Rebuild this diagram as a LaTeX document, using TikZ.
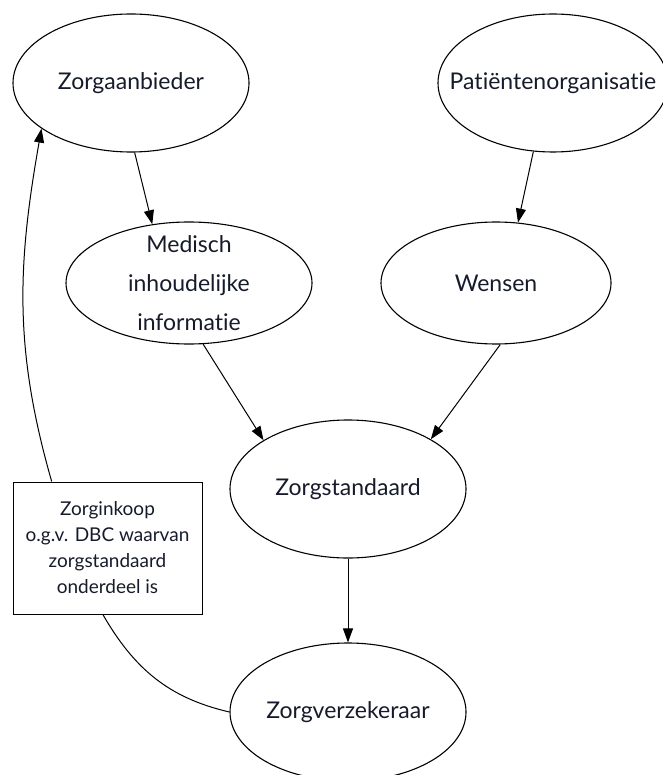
\documentclass[tikz,border=0pt]{standalone}
\usepackage{fontspec}
\setmainfont{Lato}[Ligatures={NoCommon,NoRare,NoDiscretionary}]
\usetikzlibrary{shapes.geometric,arrows.meta}
\definecolor{txt}{RGB}{22,27,43}
\begin{document}
\begin{tikzpicture}[x=1pt,y=1pt,
 ell/.style={ellipse,draw,line width=1.1pt,inner xsep=-60pt,inner ysep=-45pt,text=txt,font=\fontsize{23}{39}\selectfont,align=center},
 arr/.style={-{Triangle[length=14pt,width=10pt]},line width=1pt},
 plainline/.style={line width=1pt},
 boxn/.style={draw,line width=1pt,minimum width=189pt,minimum height=132pt,inner sep=0pt,text=txt,font=\fontsize{19}{26}\selectfont,align=center}]
\useasboundingbox (0,0) rectangle (662,-775);
\node[ell,minimum width=236pt,minimum height=138pt] (za) at (131,-83) {Zorgaanbieder};
\node[ell,minimum width=230pt,minimum height=138pt] (pat) at (553,-83) {Patiëntenorganisatie};
\node[ell,minimum width=246pt,minimum height=122pt] (med) at (189,-283) {Medisch\\inhoudelijke\\informatie};
\node[ell,minimum width=230pt,minimum height=122pt] (wen) at (496,-283) {Wensen};
\node[ell,minimum width=236pt,minimum height=138pt] (zs) at (348,-489) {Zorgstandaard};
\node[ell,minimum width=236pt,minimum height=138pt] (zv) at (348,-712) {Zorgverzekeraar};
\node[boxn] (box) at (107.5,-548) {Zorginkoop\\o.g.v. DBC waarvan\\zorgstandaard\\onderdeel is};
\draw[arr] (za.-87.5) -- (med.122);
\draw[arr] (pat.-106) -- (wen.70);
\draw[arr] (med.-77) -- (zs.150);
\draw[arr] (wen.-86) -- (zs.31);
\draw[arr] (zs.south) -- (zv.north);
\draw[plainline] (box.-94) to[out=-60,in=167] (zv.west);
\draw[arr] (box.130) to[out=106,in=-100] (za.-153);
\end{tikzpicture}
\end{document}
